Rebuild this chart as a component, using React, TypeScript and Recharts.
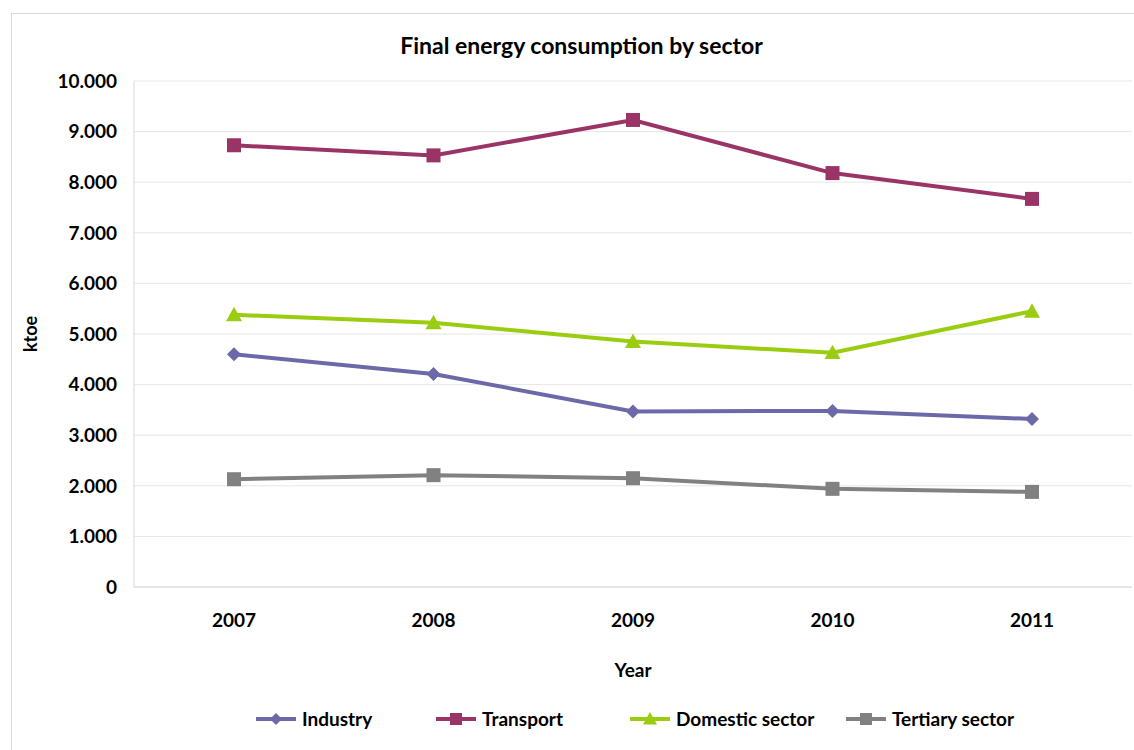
import React from 'react';
import { LineChart, Line, XAxis, YAxis, CartesianGrid, Legend } from 'recharts';

const years = ['2007', '2008', '2009', '2010', '2011'];
const industry = [4600, 4210, 3470, 3480, 3320];
const transport = [8730, 8530, 9230, 8180, 7670];
const domestic = [5380, 5220, 4850, 4630, 5450];
const tertiary = [2130, 2210, 2150, 1940, 1880];
const yTicks = [0, 1000, 2000, 3000, 4000, 5000, 6000, 7000, 8000, 9000, 10000];

const series = [
  { key: 'industry', name: 'Industry', color: '#6b69a8', shape: 'diamond' },
  { key: 'transport', name: 'Transport', color: '#9b3466', shape: 'square' },
  { key: 'domestic', name: 'Domestic sector', color: '#9acd10', shape: 'triangle' },
  { key: 'tertiary', name: 'Tertiary sector', color: '#818181', shape: 'square' },
];

const data = years.map((year, i) => ({
  year,
  industry: industry[i],
  transport: transport[i],
  domestic: domestic[i],
  tertiary: tertiary[i],
}));

const FONT = 'Lato, "Open Sans", sans-serif';
const legendLefts = [256, 436, 630, 846];

function Marker({ cx, cy, shape, color, size = 7 }: any) {
  if (cx == null || cy == null) return null;
  if (shape === 'diamond') {
    return <polygon points={`${cx},${cy - size} ${cx + size},${cy} ${cx},${cy + size} ${cx - size},${cy}`} fill={color} />;
  }
  if (shape === 'triangle') {
    const s = size + 1;
    return <polygon points={`${cx},${cy - s} ${cx + s},${cy + s * 0.8} ${cx - s},${cy + s * 0.8}`} fill={color} />;
  }
  return <rect x={cx - size} y={cy - size} width={size * 2} height={size * 2} fill={color} />;
}

function LegendContent({ payload }: any) {
  const items = series.filter((s) => (payload || []).some((p: any) => p.value === s.name));
  return (
    <div style={{ height: 40, position: 'relative', fontFamily: FONT, fontWeight: 700, fontSize: 19, color: '#000' }}>
      {items.map((s, i) => (
        <div key={s.key} style={{ position: 'absolute', left: legendLefts[i], top: 8, display: 'flex', alignItems: 'center' }}>
          <svg width={40} height={20} style={{ marginRight: 6 }}>
            <line x1={0} y1={10} x2={40} y2={10} stroke={s.color} strokeWidth={4} />
            <Marker cx={20} cy={10} shape={s.shape} color={s.color} size={6} />
          </svg>
          <span>{s.name}</span>
        </div>
      ))}
    </div>
  );
}

function YLabel({ viewBox }: any) {
  const y = viewBox ? viewBox.y + viewBox.height / 2 : 334;
  return (
    <text x={30} y={y} transform={`rotate(-90, 30, ${y})`} textAnchor="middle" dominantBaseline="central"
      style={{ fontFamily: FONT, fontWeight: 700, fontSize: 18, fill: '#000' }}>
      ktoe
    </text>
  );
}

export default function App() {
  return (
    <div style={{ position: 'absolute', left: 0, top: 0, width: 1134, height: 750, background: '#fff', overflow: 'hidden' }}>
      <div style={{ position: 'absolute', left: 11, top: 13, width: 1130, height: 745, border: '1px solid #d9d9d9' }} />
      <div style={{ position: 'absolute', left: 0, top: 31, width: 1163, textAlign: 'center', fontFamily: FONT, fontSize: 23, fontWeight: 700, color: '#000' }}>
        Final energy consumption by sector
      </div>
      <div style={{ position: 'absolute', left: 0, top: 0 }}>
        <LineChart width={1134} height={750} data={data} margin={{ top: 81, right: 2, left: 0, bottom: 11 }}>
          <CartesianGrid vertical={false} stroke="#e6e6e6" />
          <XAxis
            dataKey="year"
            height={112}
            padding={{ left: 100, right: 100 }}
            axisLine={{ stroke: '#d9d9d9' }}
            tickLine={false}
            tickSize={0}
            tickMargin={27}
            tick={{ fontFamily: FONT, fontWeight: 700, fontSize: 19, fill: '#000' }}
            label={{ value: 'Year', position: 'insideBottom', offset: 22, style: { fontFamily: FONT, fontWeight: 700, fontSize: 19, fill: '#000' } }}
          />
          <YAxis
            width={134}
            domain={[0, 10000]}
            ticks={yTicks}
            interval={0}
            axisLine={{ stroke: '#d9d9d9' }}
            tickLine={false}
            tickSize={0}
            tickMargin={17}
            tickFormatter={(v: number) => v.toLocaleString('de-DE')}
            tick={{ fontFamily: FONT, fontWeight: 700, fontSize: 19, fill: '#000' }}
            label={<YLabel />}
          />
          <Legend verticalAlign="bottom" content={<LegendContent />} />
          {series.map((s) => (
            <Line
              key={s.key}
              dataKey={s.key}
              name={s.name}
              stroke={s.color}
              strokeWidth={4}
              isAnimationActive={false}
              dot={(p: any) => <Marker key={`${s.key}-${p.index}`} cx={p.cx} cy={p.cy} shape={s.shape} color={s.color} />}
              activeDot={false}
            />
          ))}
        </LineChart>
      </div>
    </div>
  );
}
